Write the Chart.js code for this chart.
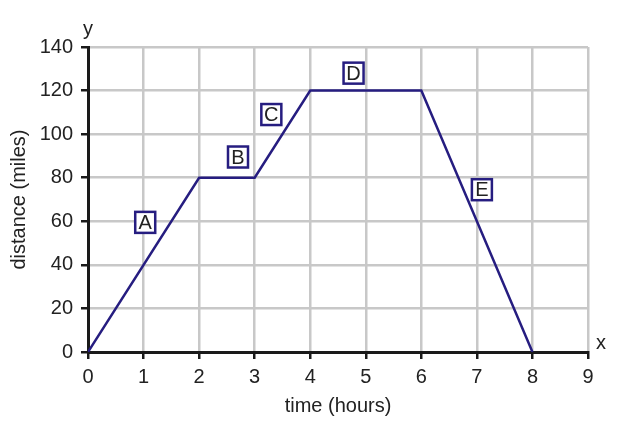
<!DOCTYPE html>
<html>
<head>
<meta charset="utf-8">
<script src="https://cdn.jsdelivr.net/npm/chart.js@4"></script>
<style>
  html, body { margin: 0; padding: 0; background: #fff; }
  #wrap { width: 644px; height: 432px; }
</style>
</head>
<body>
<div id="wrap"><canvas id="distChart"></canvas></div>
<script>
// Data
const timeHours = [0, 2, 3, 4, 6, 8];
const distanceMiles = [0, 80, 80, 120, 120, 0];

// Segment labels (letter, x position, y position in data units)
const segLetters = ['A', 'B', 'C', 'D', 'E'];
const segX = [1.03, 2.7, 3.3, 4.78, 7.09];
const segY = [59.5, 89.5, 109, 128, 74.5];

const xTicks = [0, 1, 2, 3, 4, 5, 6, 7, 8, 9];
const yTicks = [0, 20, 40, 60, 80, 100, 120, 140];

const navy = '#261d80';
const fontFam = '"Liberation Sans", Arial, sans-serif';

const points = timeHours.map((t, i) => ({ x: t, y: distanceMiles[i] }));

// Boxed letters + the little "x" / "y" axis names
const labelPlugin = {
  id: 'segLabels',
  afterDatasetsDraw(chart) {
    const ctx = chart.ctx;
    const xs = chart.scales.x, ys = chart.scales.y;
    ctx.save();
    ctx.font = '20px ' + fontFam;
    ctx.textAlign = 'center';
    ctx.textBaseline = 'middle';
    segLetters.forEach((s, i) => {
      const cx = xs.getPixelForValue(segX[i]);
      const cy = ys.getPixelForValue(segY[i]);
      ctx.fillStyle = '#fff';
      ctx.fillRect(cx - 10, cy - 10.5, 20, 21);
      ctx.strokeStyle = navy;
      ctx.lineWidth = 2.5;
      ctx.strokeRect(cx - 10, cy - 10.5, 20, 21);
      ctx.fillStyle = '#222';
      ctx.fillText(s, cx, cy + 1);
    });
    ctx.fillStyle = '#222';
    ctx.font = '20px ' + fontFam;
    ctx.fillText('y', xs.left, ys.top - 18);
    ctx.fillText('x', xs.right + 13, ys.bottom - 9);
    ctx.restore();
  }
};

new Chart(document.getElementById('distChart'), {
  type: 'line',
  data: {
    datasets: [{
      data: points,
      borderColor: navy,
      borderWidth: 2.5,
      pointRadius: 0,
      tension: 0,
      fill: false
    }]
  },
  options: {
    responsive: true,
    maintainAspectRatio: false,
    animation: false,
    layout: { padding: { top: 47, right: 56, left: 0, bottom: 0 } },
    plugins: { legend: { display: false }, tooltip: { enabled: false } },
    scales: {
      x: {
        type: 'linear',
        min: 0,
        max: 9,
        afterBuildTicks: s => { s.ticks = xTicks.map(v => ({ value: v })); },
        afterFit: s => { s.height = 80; },
        grid: { color: '#c8c8c8', lineWidth: 2.5, tickColor: '#1a1a1a', tickLength: 7, tickWidth: 2.5 },
        border: { color: '#1a1a1a', width: 3 },
        ticks: { color: '#222', padding: 6, font: { family: fontFam, size: 20 } },
        title: {
          display: true, text: 'time (hours)', color: '#222',
          font: { family: fontFam, size: 20 }, padding: { top: 0, bottom: 14 }
        }
      },
      y: {
        min: 0,
        max: 140,
        afterBuildTicks: s => { s.ticks = yTicks.map(v => ({ value: v })); },
        afterFit: s => { s.width = 88; },
        grid: { color: '#c8c8c8', lineWidth: 2.5, tickColor: '#1a1a1a', tickLength: 7, tickWidth: 2.5 },
        border: { color: '#1a1a1a', width: 3 },
        ticks: { color: '#222', padding: 8, font: { family: fontFam, size: 20 } },
        title: {
          display: true, text: 'distance (miles)', color: '#222',
          font: { family: fontFam, size: 20 }, padding: { top: 7, bottom: 0 }
        }
      }
    }
  },
  plugins: [labelPlugin]
});
</script>
</body>
</html>
